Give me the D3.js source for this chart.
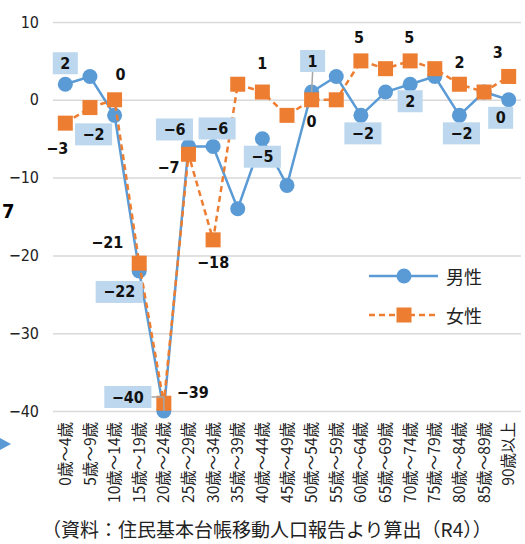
<!DOCTYPE html>
<html>
<head>
<meta charset="utf-8">
<script src="https://cdn.jsdelivr.net/npm/d3@7"></script>
<style>
body { margin: 0; background: #fff; }
</style>
</head>
<body>
<div id="chart"></div>
<script>
// data
const ageGroups = ["0歳～4歳", "5歳～9歳", "10歳～14歳", "15歳～19歳", "20歳～24歳", "25歳～29歳", "30歳～34歳",
  "35歳～39歳", "40歳～44歳", "45歳～49歳", "50歳～54歳", "55歳～59歳", "60歳～64歳", "65歳～69歳",
  "70歳～74歳", "75歳～79歳", "80歳～84歳", "85歳～89歳", "90歳以上"]
const male = [2, 3, -2, -22, -40, -6, -6, -14, -5, -11, 1, 3, -2, 1, 2, 3, -2, 1, 0]
const female = [-3, -1, 0, -21, -39, -7, -18, 2, 1, -2, 0, 0, 5, 4, 5, 4, 2, 1, 3]
const yTicks = [-40, -30, -20, -10, 0, 10]
const seriesNames = ["男性", "女性"]
const sourceNote = "（資料：住民基本台帳移動人口報告より算出（R4））"

// label offsets from the point (index: [dx, dy])
const maleLabelPos = {0: [0, -21], 2: [-21, 19], 3: [-20, 21], 4: [-36, -14], 5: [-14, -17], 6: [4, -18],
  8: [0, 18], 10: [1, -31], 12: [2, 18], 14: [0, 17], 16: [2, 18], 18: [-8, 18]}
const femaleLabelPos = {0: [-8, 25], 2: [6, -25], 3: [-32, -21], 4: [29, -11], 5: [-20, 13], 6: [0, 23],
  8: [0, -29], 10: [0, 22], 12: [-2, -23], 14: [-1, -23], 16: [0, -22], 18: [-11, -24]}

// ----------------------------------------------------------
const width = 525
const height = 544
const plot = {left: 53, right: 521, top: 22, bottom: 411}
const blue = "#5b9bd5"
const orange = "#ed7d31"
const numFont = "'Liberation Sans Narrow', 'DejaVu Sans Condensed', sans-serif"
const jpFont = "'Noto Sans CJK JP', sans-serif"
const fmt = d3.format("d")

const svg = d3.select("div#chart").append("svg").attr("width", width).attr("height", height)

const x = d3.scaleBand().domain(ageGroups).range([plot.left, plot.right])
const y = d3.scaleLinear().domain([-40, 10]).range([plot.bottom, plot.top])
const cx = i => x(ageGroups[i]) + x.bandwidth() / 2

// y axis + gridlines
const yAxisGroup = svg.append("g").attr("transform", `translate(${plot.left}, 0)`)
  .call(d3.axisLeft(y).tickValues(yTicks).tickSize(-(plot.right - plot.left)).tickPadding(14).tickFormat(fmt))
yAxisGroup.select(".domain").remove()
yAxisGroup.selectAll(".tick line").attr("stroke", "#d9d9d9").attr("stroke-width", 1.5)
yAxisGroup.selectAll(".tick text")
  .style("font-family", numFont).style("font-size", "16px").attr("fill", "#222")

// x axis labels (vertical)
const xAxisGroup = svg.append("g").attr("transform", `translate(0, ${plot.bottom})`)
  .call(d3.axisBottom(x).tickSize(0))
xAxisGroup.select(".domain").remove()
xAxisGroup.selectAll(".tick text")
  .attr("transform", "rotate(-90)")
  .attr("x", -11).attr("y", 0).attr("dy", "0.36em")
  .attr("text-anchor", "end")
  .style("font-family", jpFont).style("font-size", "15.5px").attr("fill", "#222")

// lines
const idx = d3.range(ageGroups.length)
const lineOf = vals => d3.line().x(i => cx(i)).y(i => y(vals[i]))(idx)

const elementGroup = svg.append("g")
const leaderGroup = svg.append("g")

elementGroup.append("path").attr("d", lineOf(male))
  .attr("fill", "none").attr("stroke", blue).attr("stroke-width", 2.5)
elementGroup.selectAll("circle.male").data(idx).enter().append("circle")
  .attr("class", "male")
  .attr("cx", i => cx(i)).attr("cy", i => y(male[i])).attr("r", 7.5)
  .attr("fill", blue)

elementGroup.append("path").attr("d", lineOf(female))
  .attr("fill", "none").attr("stroke", orange).attr("stroke-width", 2.5).attr("stroke-dasharray", "6,4")
elementGroup.selectAll("rect.female").data(idx).enter().append("rect")
  .attr("class", "female")
  .attr("x", i => cx(i) - 7.5).attr("y", i => y(female[i]) - 7.5)
  .attr("width", 15).attr("height", 15)
  .attr("fill", orange)

// data labels
const labelGroup = svg.append("g")

Object.keys(femaleLabelPos).map(k => {
  const i = +k
  labelGroup.append("text")
    .text(fmt(female[i]))
    .attr("x", cx(i) + femaleLabelPos[k][0])
    .attr("y", y(female[i]) + femaleLabelPos[k][1])
    .attr("text-anchor", "middle").attr("dominant-baseline", "central")
    .style("font-family", numFont).style("font-size", "16px").style("font-weight", "bold")
    .attr("fill", "#111")
})

Object.keys(maleLabelPos).map(k => {
  const i = +k
  const lx = cx(i) + maleLabelPos[k][0]
  const ly = y(male[i]) + maleLabelPos[k][1]
  const g = labelGroup.append("g")
  const t = g.append("text")
    .text(fmt(male[i]))
    .attr("x", lx).attr("y", ly)
    .attr("text-anchor", "middle").attr("dominant-baseline", "central")
    .style("font-family", numFont).style("font-size", "16px").style("font-weight", "bold")
    .attr("fill", "#111")
  const w = t.node().getBBox().width + 15
  g.insert("rect", "text")
    .attr("x", lx - w / 2).attr("y", ly - 11).attr("width", w).attr("height", 22)
    .attr("fill", "#bdd7ee")

  // leader lines for labels pulled away from their point
  const px = cx(i), py = y(male[i])
  if (i === 4) {
    leaderGroup.append("polyline")
      .attr("points", [[lx + w / 2, ly], [px, ly], [px, py]].join(" "))
      .attr("fill", "none").attr("stroke", "#a6a6a6").attr("stroke-width", 1.5)
  }
  if (i === 10) {
    leaderGroup.append("line")
      .attr("x1", lx).attr("y1", ly + 11).attr("x2", px).attr("y2", py)
      .attr("stroke", "#a6a6a6").attr("stroke-width", 1.5)
  }
})
leaderGroup.lower()
elementGroup.lower()
yAxisGroup.lower()

// legend
const legend = svg.append("g").attr("transform", "translate(369, 276)")
legend.append("line").attr("x1", 0).attr("x2", 69).attr("y1", 0).attr("y2", 0)
  .attr("stroke", blue).attr("stroke-width", 2.5)
legend.append("circle").attr("cx", 35).attr("cy", 0).attr("r", 7.5).attr("fill", blue)
legend.append("line").attr("x1", 0).attr("x2", 69).attr("y1", 39).attr("y2", 39)
  .attr("stroke", orange).attr("stroke-width", 2.5).attr("stroke-dasharray", "6,4")
legend.append("rect").attr("x", 27.5).attr("y", 31.5).attr("width", 15).attr("height", 15).attr("fill", orange)
legend.selectAll("text").data(seriesNames).enter().append("text")
  .text(d => d)
  .attr("x", 77).attr("y", (d, i) => i * 39)
  .attr("dominant-baseline", "central")
  .style("font-family", jpFont).style("font-size", "18px").attr("fill", "#222")

// source note
svg.append("text")
  .text(sourceNote)
  .attr("x", 42).attr("y", 528)
  .attr("dominant-baseline", "central")
  .style("font-family", jpFont).style("font-size", "19px").attr("fill", "#222")

// cropped bits of the surrounding page at the left edge
svg.append("text").text("7")
  .attr("x", 2).attr("y", 218)
  .style("font-family", numFont).style("font-size", "20px").style("font-weight", "bold")
svg.append("polygon").attr("points", "0,438 11,444 0,450").attr("fill", blue)
</script>
</body>
</html>
